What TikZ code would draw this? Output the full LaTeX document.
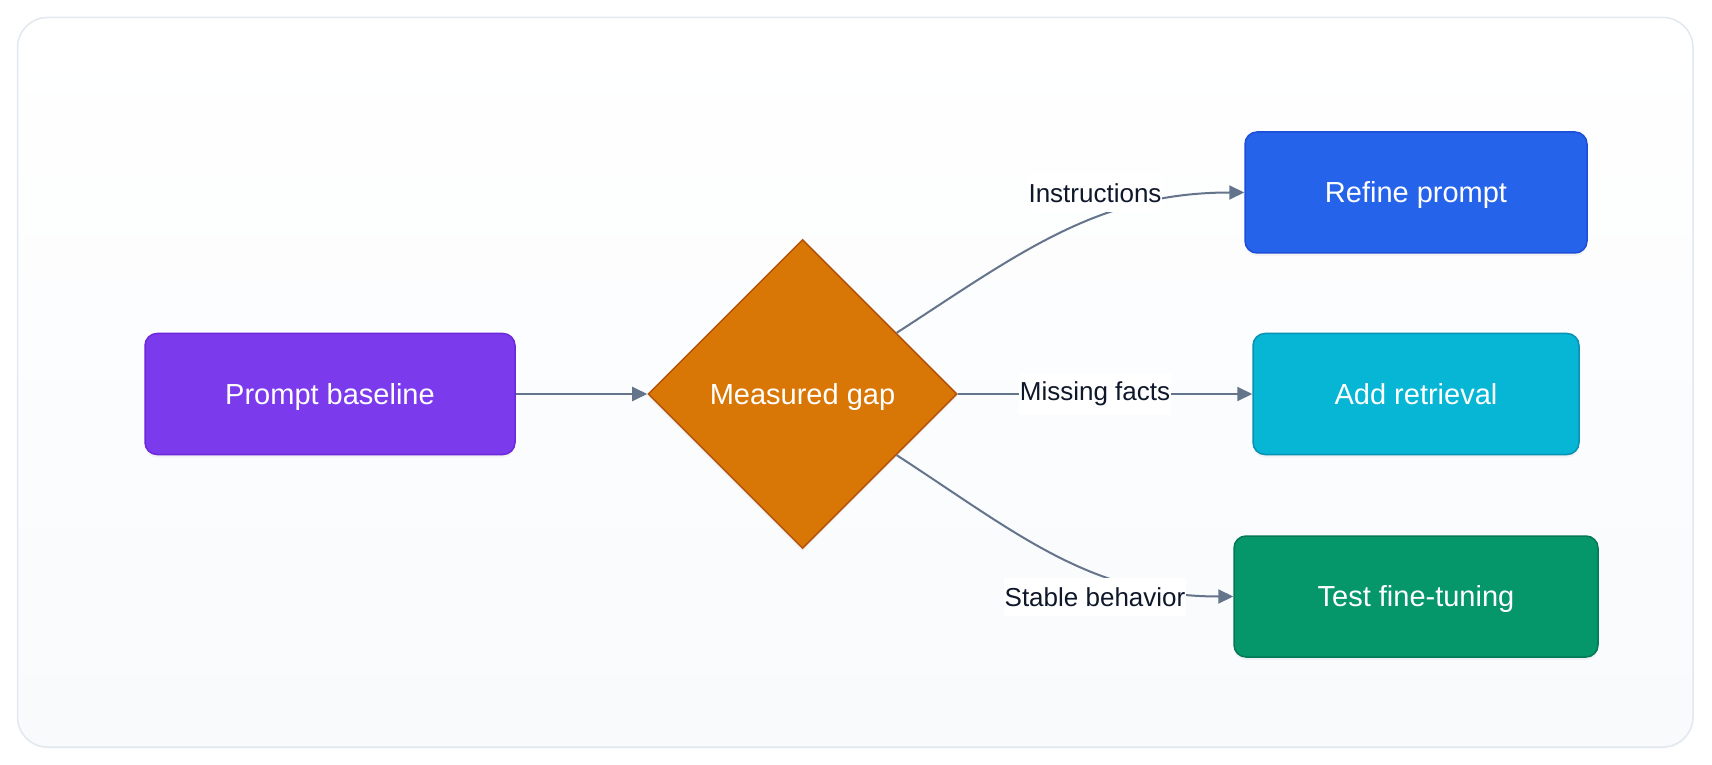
\documentclass[tikz,border=0pt]{standalone}
\usepackage{fontspec}
\setmainfont{Liberation Sans}
\usetikzlibrary{arrows.meta,shapes.geometric,shadows}

\definecolor{basefill}{HTML}{7C3AED}
\definecolor{baseline}{HTML}{6D28D9}
\definecolor{gapfill}{HTML}{D97706}
\definecolor{gapline}{HTML}{B45309}
\definecolor{refinefill}{HTML}{2563EB}
\definecolor{refineline}{HTML}{1D4ED8}
\definecolor{retrfill}{HTML}{06B6D4}
\definecolor{retrline}{HTML}{0891B2}
\definecolor{tunefill}{HTML}{059669}
\definecolor{tuneline}{HTML}{047857}
\definecolor{edgegray}{HTML}{64748B}
\definecolor{lbltext}{HTML}{0F172A}
\definecolor{frameline}{HTML}{E2E8F0}
\definecolor{framebot}{HTML}{F8FAFC}

\begin{document}
\begin{tikzpicture}[x=1pt,y=1pt,>={Triangle[length=15pt,width=14pt]},
  box/.style={rounded corners=12pt,minimum height=121pt,text=white,
    font=\fontsize{29}{35}\selectfont,text height=24pt,text depth=4pt,line width=1.5pt,
    drop shadow={opacity=0.08,shadow xshift=0pt,shadow yshift=-3pt}},
  edge/.style={->,draw=edgegray,line width=2pt},
  lbl/.style={fill=white,text=lbltext,font=\fontsize{26}{31}\selectfont,
    inner xsep=1pt,inner ysep=9pt}]
  \useasboundingbox (0,0) rectangle (1712,764);
  \draw[draw=frameline,line width=1.5pt,rounded corners=30pt,top color=white,
    bottom color=framebot,drop shadow={opacity=0.04,shadow xshift=0pt,shadow yshift=-2pt}]
    (17.5,17) rectangle (1693,746.5);
  \node[box,fill=basefill,draw=baseline,minimum width=370pt] (base) at (330,370) {Prompt baseline};
  \node[diamond,aspect=1,minimum width=309pt,minimum height=309pt,inner sep=0pt,
    fill=gapfill,draw=gapline,line width=1.5pt,text=white,font=\fontsize{29}{35}\selectfont,
    text height=24pt,text depth=4pt,
    drop shadow={opacity=0.08,shadow xshift=0pt,shadow yshift=-3pt}] (gap) at (802.5,370) {Measured gap};
  \node[box,fill=refinefill,draw=refineline,minimum width=342pt] (refine) at (1416,571.5) {Refine prompt};
  \node[box,fill=retrfill,draw=retrline,minimum width=326pt] (retr) at (1416,370) {Add retrieval};
  \node[box,fill=tunefill,draw=tuneline,minimum width=364pt] (tune) at (1416,167.5) {Test fine-tuning};
  \draw[edge] (base) -- (gap);
  \draw[edge] (gap) to[out=33,in=180] (refine.west);
  \draw[edge] (gap) -- (retr);
  \draw[edge] (gap) to[out=-33,in=180] (tune.west);
  \node[lbl] (instr) at (1095,571) {Instructions};
  \node[lbl] (facts) at (1095,370) {Missing facts};
  \node[lbl] (stable) at (1095,167) {Stable behavior};
\end{tikzpicture}
\end{document}
